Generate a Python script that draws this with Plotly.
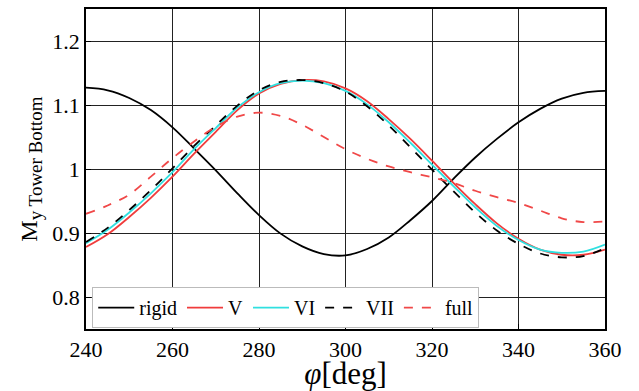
import plotly.graph_objects as go

phi = [240, 245, 250, 255, 260, 265, 270, 275, 280, 285, 290, 295, 300,
       305, 310, 315, 320, 325, 330, 335, 340, 345, 350, 355, 360]

rigid = [1.127, 1.123, 1.111, 1.092, 1.065, 1.032, 0.998, 0.962, 0.928, 0.899, 0.879, 0.867, 0.865,
         0.875, 0.893, 0.920, 0.950, 0.985, 1.018, 1.047, 1.073, 1.094, 1.110, 1.119, 1.122]
V = [0.878, 0.898, 0.925, 0.955, 0.988, 1.024, 1.058, 1.092, 1.118, 1.133, 1.139, 1.137, 1.126,
     1.106, 1.078, 1.047, 1.013, 0.978, 0.945, 0.915, 0.891, 0.874, 0.866, 0.866, 0.874]
VI = [0.884, 0.905, 0.932, 0.962, 0.995, 1.031, 1.064, 1.096, 1.120, 1.134, 1.138, 1.134, 1.122,
      1.101, 1.073, 1.041, 1.007, 0.973, 0.940, 0.911, 0.889, 0.874, 0.869, 0.871, 0.882]
VII = [0.886, 0.908, 0.936, 0.967, 1.001, 1.036, 1.068, 1.099, 1.123, 1.136, 1.139, 1.134, 1.121,
       1.098, 1.068, 1.034, 0.999, 0.965, 0.932, 0.904, 0.883, 0.868, 0.862, 0.864, 0.876]
full = [0.930, 0.943, 0.960, 0.988, 1.017, 1.043, 1.066, 1.082, 1.088, 1.083, 1.069, 1.050, 1.031,
        1.016, 1.004, 0.995, 0.987, 0.978, 0.966, 0.956, 0.947, 0.935, 0.923, 0.917, 0.918]

series = [
    ("rigid", rigid, "#000000", "solid"),
    ("V", V, "#f03c3c", "solid"),
    ("VI", VI, "#30e0e0", "solid"),
    ("VII", VII, "#000000", "dash"),
    ("full", full, "#f04848", "dash"),
]

fig = go.Figure()
for name, ys, col, dash in series:
    fig.add_trace(go.Scatter(x=phi, y=ys, name=name, mode="lines",
                             line=dict(color=col, width=1.8, dash=dash, shape="spline")))

font = "Liberation Serif"
fig.update_layout(
    width=639, height=391,
    margin=dict(l=86, r=34, t=7, b=57),
    paper_bgcolor="white", plot_bgcolor="white",
    font=dict(family=font, size=22, color="black"),
    showlegend=True,
    legend=dict(orientation="h", x=0.012, y=0.003, xanchor="left", yanchor="bottom",
                bgcolor="white", bordercolor="#bbbbbb", borderwidth=1,
                font=dict(family=font, size=20, color="black"), itemwidth=36,
                tracegroupgap=0),
)
fig.update_xaxes(range=[240, 360], tick0=240, dtick=20, showgrid=True, gridcolor="#222222",
                 gridwidth=1, showline=True, linecolor="black", linewidth=1.5, mirror=True,
                 ticks="inside", ticklen=5, tickcolor="black", zeroline=False,
                 tickfont=dict(family=font, size=22, color="black"),
                 title=dict(text="<i>φ</i>[deg]", font=dict(family=font, size=31, color="black"),
                            standoff=0))
fig.update_yaxes(range=[0.75, 1.25], tick0=0.8, dtick=0.1, showgrid=True, gridcolor="#222222",
                 gridwidth=1, showline=True, linecolor="black", linewidth=1.5, mirror=True,
                 ticks="inside", ticklen=5, tickcolor="black", zeroline=False,
                 tickfont=dict(family=font, size=22, color="black"),
                 title=dict(text="M<sub><span style='font-size:19px'>y Tower Bottom</span></sub>",
                            font=dict(family=font, size=24, color="black"), standoff=8))

fig.write_html("out.html")
